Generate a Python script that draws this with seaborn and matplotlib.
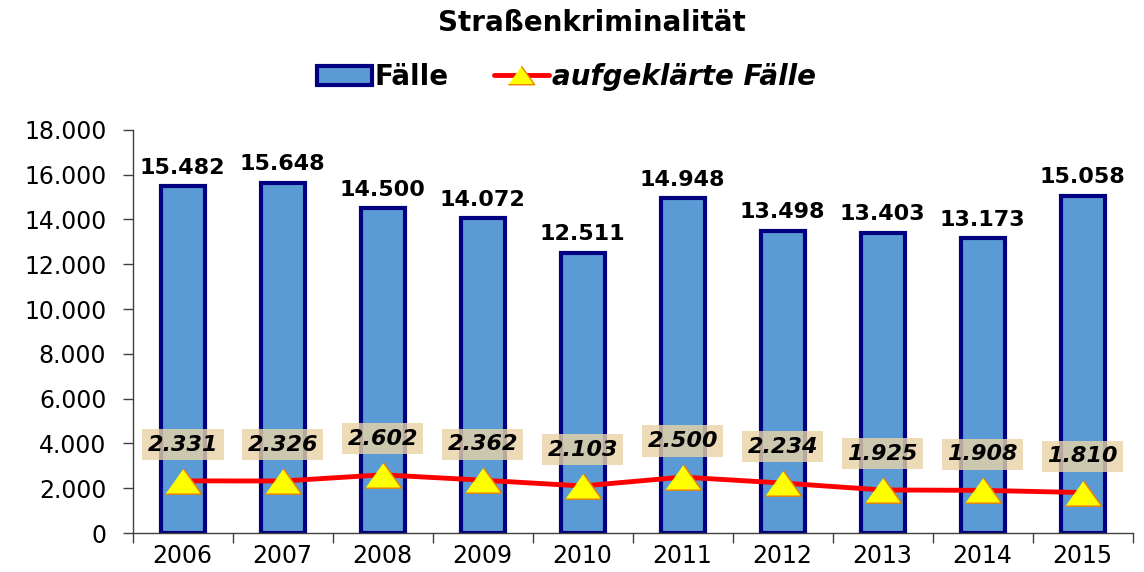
import matplotlib
matplotlib.use("Agg")
import matplotlib.pyplot as plt
import matplotlib.ticker as mticker
from matplotlib.patches import Patch
from matplotlib.lines import Line2D
import seaborn as sns
import pandas as pd

years = ["2006", "2007", "2008", "2009", "2010", "2011", "2012", "2013", "2014", "2015"]
cases = [15482, 15648, 14500, 14072, 12511, 14948, 13498, 13403, 13173, 15058]
cleared = [2331, 2326, 2602, 2362, 2103, 2500, 2234, 1925, 1908, 1810]

BAR_FACE = "#5B9BD5"
BAR_EDGE = "#000080"


def de_fmt(v):
    return f"{int(v):,}".replace(",", ".")


sns.set_style("white")
plt.rcParams["font.family"] = ["DejaVu Sans"]
for k in ["text.color", "axes.labelcolor", "xtick.color", "ytick.color"]:
    plt.rcParams[k] = "black"

df = pd.DataFrame({"year": years, "cases": cases, "cleared": cleared})

fig = plt.figure(figsize=(11.44, 5.72), dpi=100)
ax = fig.add_axes([0.116, 0.068, 0.874, 0.705])

sns.barplot(data=df, x="year", y="cases", ax=ax, color=BAR_FACE,
            width=0.44, edgecolor=BAR_EDGE, linewidth=3, saturation=1)
sns.pointplot(data=df, x="year", y="cleared", ax=ax, color="red",
              markers="^", linestyles="-", linewidth=3.5,
              markersize=20, markerfacecolor="yellow",
              markeredgecolor="#F08000", markeredgewidth=1)

# flatter triangle like the original
tri = [(-1, -0.7), (1, -0.7), (0, 0.7)]
for ln in ax.lines:
    ln.set_marker(tri)
    ln.set_markersize(26)
    ln.set_zorder(4)

ax.bar_label(ax.containers[0], labels=[de_fmt(v) for v in cases],
             padding=6, fontsize=16, fontweight="bold")

for i, v in enumerate(cleared):
    ax.annotate(de_fmt(v), (i, v), xytext=(0, 26), textcoords="offset points",
                ha="center", va="center", fontsize=16, fontweight="bold",
                fontstyle="italic", zorder=5,
                bbox=dict(boxstyle="square,pad=0.25", facecolor="#E9D3A6",
                          edgecolor="none", alpha=0.8))

ax.set_ylim(0, 18000)
ax.set_xlim(-0.5, len(years) - 0.5)
ax.yaxis.set_major_locator(mticker.MultipleLocator(2000))
ax.yaxis.set_major_formatter(mticker.FuncFormatter(lambda v, p: de_fmt(v)))
ax.set_xlabel("")
ax.set_ylabel("")

ax.set_xticks(range(len(years)))
ax.set_xticklabels(years)
ax.set_xticks([i - 0.5 for i in range(len(years) + 1)], minor=True)
ax.tick_params(axis="x", which="major", length=0, labelsize=17, pad=8)
ax.tick_params(axis="x", which="minor", length=7, width=1, color="#404040",
               direction="out", bottom=True)
ax.tick_params(axis="y", length=7, width=1, color="#404040", direction="out",
               labelsize=17, left=True, pad=12)

for s in ["top", "right"]:
    ax.spines[s].set_visible(False)
for s in ["left", "bottom"]:
    ax.spines[s].set_color("#404040")
    ax.spines[s].set_linewidth(1)

handles = [
    Patch(facecolor=BAR_FACE, edgecolor=BAR_EDGE, linewidth=3),
    Line2D([0], [0], color="red", linewidth=3.5, marker=tri, markersize=19,
           markerfacecolor="yellow", markeredgecolor="#F08000"),
]
leg = fig.legend(handles, ["Fälle", "aufgeklärte Fälle"], loc="center",
                 bbox_to_anchor=(0.495, 0.865), ncol=2, frameon=False,
                 prop={"size": 20, "weight": "bold"}, handlelength=2.0,
                 handletextpad=0.1, columnspacing=1.6)
leg.get_texts()[1].set_fontstyle("italic")

fig.suptitle("Straßenkriminalität", x=0.517, y=0.985, fontsize=20,
             fontweight="bold")

fig.savefig("out.png", dpi=100)
